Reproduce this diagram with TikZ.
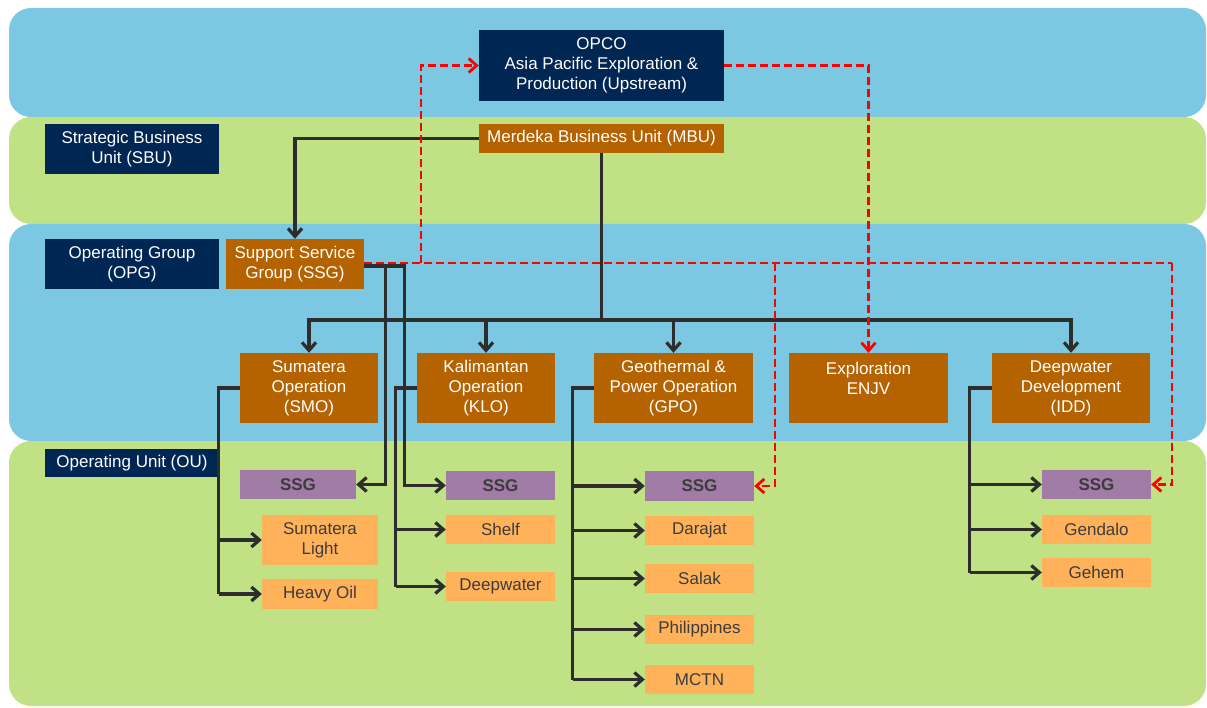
\documentclass[tikz,border=0pt]{standalone}
\usepackage{fontspec}
\setmainfont{Liberation Sans}
\usetikzlibrary{arrows.meta}
\definecolor{bandblue}{RGB}{124,199,226}
\definecolor{bandgreen}{RGB}{193,225,133}
\definecolor{navy}{RGB}{0,38,84}
\definecolor{orgbrown}{RGB}{181,98,0}
\definecolor{ssgpurple}{RGB}{160,124,166}
\definecolor{lightorange}{RGB}{255,178,90}
\definecolor{linegray}{RGB}{45,45,45}
\definecolor{textgray}{RGB}{60,60,60}
\begin{document}
\begin{tikzpicture}[x=1pt,y=-1pt,
  band/.style={rounded corners=22pt},
  box/.style={inner sep=0pt, align=center, font=\fontsize{17}{20}\selectfont},
  navybox/.style={box, fill=navy, text=white},
  brownbox/.style={box, fill=orgbrown, text=white},
  ssgbox/.style={box, fill=ssgpurple, text=textgray, font=\fontsize{17}{20}\selectfont\bfseries},
  unitbox/.style={box, fill=lightorange, text=textgray},
  trunk/.style={draw=linegray, line width=3.2pt},
  conn/.style={trunk, -{Straight Barb[length=8pt,width=14pt]}},
  reddash/.style={draw=red, line width=2.8pt, dash pattern=on 8pt off 4pt},
  redconn/.style={reddash, -{Straight Barb[length=8pt,width=14pt]}},
]
\useasboundingbox (0,0) rectangle (1207,708);
% bands
\fill[bandblue, band] (9,8) rectangle (1206,117);
\fill[bandgreen, band] (9,117) rectangle (1206,224);
\fill[bandblue, band] (9,224) rectangle (1206,441);
\fill[bandgreen, band] (9,441) rectangle (1206,706);

% level labels
\node[navybox, minimum width=174pt, minimum height=50pt] (sbu) at (132,149) {Strategic Business\\Unit (SBU)};
\node[navybox, minimum width=174pt, minimum height=50pt] (opg) at (132,264) {Operating Group\\(OPG)};
\node[navybox, minimum width=174pt, minimum height=28pt] (ou) at (132,463) {Operating Unit (OU)};

% top
\node[navybox, minimum width=245pt, minimum height=71pt] (opco) at (601.5,65.5) {OPCO\\Asia Pacific Exploration \&\\Production (Upstream)};
\node[brownbox, minimum width=245pt, minimum height=29pt] (mbu) at (601.5,138.5) {Merdeka Business Unit (MBU)};
\node[brownbox, minimum width=138pt, minimum height=50pt] (ssg) at (295,264) {Support Service\\Group (SSG)};

% operations
\node[brownbox, minimum width=138pt, minimum height=70pt] (smo) at (309,388) {Sumatera\\Operation\\(SMO)};
\node[brownbox, minimum width=138pt, minimum height=70pt] (klo) at (486,388) {Kalimantan\\Operation\\(KLO)};
\node[brownbox, minimum width=159pt, minimum height=70pt] (gpo) at (673.5,388) {Geothermal \&\\Power Operation\\(GPO)};
\node[brownbox, minimum width=159pt, minimum height=70pt] (enjv) at (868.5,388) {Exploration\\ENJV\\\mbox{}};
\node[brownbox, minimum width=158pt, minimum height=70pt] (idd) at (1071,388) {Deepwater\\Development\\(IDD)};

% units
\node[ssgbox, minimum width=116pt, minimum height=29pt] (ssg1) at (298,484.5) {SSG};
\node[unitbox, minimum width=116pt, minimum height=50pt] (sl) at (320,540) {Sumatera\\Light};
\node[unitbox, minimum width=116pt, minimum height=30pt] (ho) at (320,594) {Heavy Oil};

\node[ssgbox, minimum width=109pt, minimum height=29pt] (ssg2) at (500.5,485.5) {SSG};
\node[unitbox, minimum width=109pt, minimum height=29pt] (shelf) at (500.5,529.5) {Shelf};
\node[unitbox, minimum width=109pt, minimum height=29pt] (dw) at (500.5,586.5) {Deepwater};

\node[ssgbox, minimum width=109pt, minimum height=30pt] (ssg3) at (699.5,486) {SSG};
\node[unitbox, minimum width=109pt, minimum height=29pt] (dar) at (699.5,530.5) {Darajat};
\node[unitbox, minimum width=109pt, minimum height=29pt] (sal) at (699.5,578.5) {Salak};
\node[unitbox, minimum width=109pt, minimum height=29pt] (phi) at (699.5,629.5) {Philippines};
\node[unitbox, minimum width=109pt, minimum height=29pt] (mctn) at (699.5,679.5) {MCTN};

\node[ssgbox, minimum width=109pt, minimum height=29pt] (ssg4) at (1096.5,484.5) {SSG};
\node[unitbox, minimum width=109pt, minimum height=29pt] (gen) at (1096.5,529.5) {Gendalo};
\node[unitbox, minimum width=109pt, minimum height=29pt] (geh) at (1096.5,572.5) {Gehem};

% MBU connectors
\draw[conn] (mbu.west) -| (ssg.north);
\coordinate (bus) at (601.5,320);
\draw[trunk] (mbu.south) -- (bus);
\draw[conn] (bus) -| (smo.north);
\draw[conn] (bus) -| (klo.north);
\draw[conn] (bus) -| (gpo.north);
\draw[conn] (bus) -| (idd.north);

% SSG to unit SSGs
\draw[conn] ([yshift=-2pt]ssg.east) -- ++(21,0) |- (ssg1.east);
\draw[conn] ([yshift=-2pt]ssg.east) -- ++(40,0) |- (ssg2.west);

% operation trunks
\draw[trunk] (smo.west) -- ++(-21,0) coordinate (t1) -- (t1 |- ho.west);
\draw[conn] (t1 |- sl.west) -- (sl.west);
\draw[conn] (t1 |- ho.west) -- (ho.west);

\draw[trunk] (klo.west) -- ++(-21,0) coordinate (t2) -- (t2 |- dw.west);
\draw[conn] (t2 |- shelf.west) -- (shelf.west);
\draw[conn] (t2 |- dw.west) -- (dw.west);

\draw[trunk] (gpo.west) -- ++(-21,0) coordinate (t3) -- (t3 |- mctn.west);
\draw[conn] (t3 |- ssg3.west) -- (ssg3.west);
\draw[conn] (t3 |- dar.west) -- (dar.west);
\draw[conn] (t3 |- sal.west) -- (sal.west);
\draw[conn] (t3 |- phi.west) -- (phi.west);
\draw[conn] (t3 |- mctn.west) -- (mctn.west);

\draw[trunk] (idd.west) -- ++(-22,0) coordinate (t4) -- (t4 |- geh.west);
\draw[conn] (t4 |- ssg4.west) -- (ssg4.west);
\draw[conn] (t4 |- gen.west) -- (gen.west);
\draw[conn] (t4 |- geh.west) -- (geh.west);

% red dashed
\coordinate (r1) at (421,263);
\coordinate (r2) at (775,263);
\coordinate (r3) at (1172,263);
\draw[reddash] ([yshift=1pt]ssg.east) -- (r3);
\draw[redconn] (r1) |- (opco.west);
\draw[redconn] (opco.east) -| (enjv.north);
\draw[redconn] (r2) |- (ssg3.east);
\draw[redconn] (r3) |- (ssg4.east);
\end{tikzpicture}
\end{document}
